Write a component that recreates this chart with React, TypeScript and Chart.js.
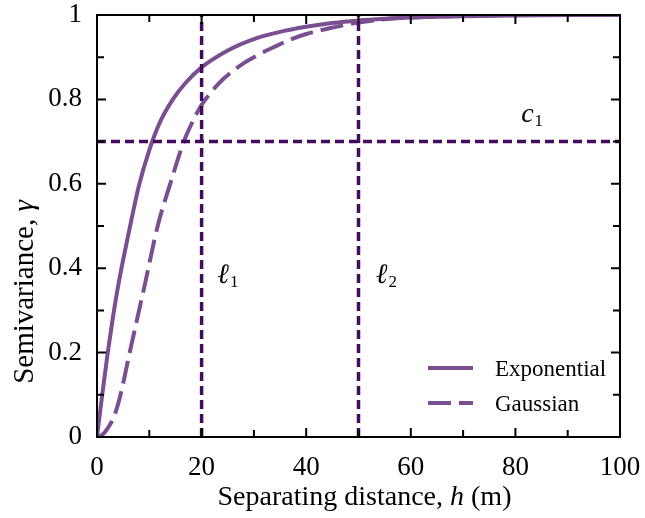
import React, { useEffect, useRef } from "react";
import { Chart, registerables } from "chart.js";

Chart.register(...registerables);

// ---- data ----
const expH = [0, 1, 2, 3, 4, 5, 6, 8, 10, 12, 14.5, 17, 20, 25, 30, 35, 40, 45, 50, 55, 60, 70, 80, 90, 100];
const expG = [0, 0.1, 0.195, 0.28, 0.355, 0.42, 0.48, 0.595, 0.68, 0.745, 0.8, 0.84, 0.876, 0.916, 0.943, 0.96, 0.972, 0.981, 0.987, 0.991, 0.994, 0.997, 0.999, 1, 1];

const gauH = [0, 1, 2, 3.3, 4.5, 5.9, 7.5, 9.3, 11.6, 14, 16.6, 18, 19.8, 22, 24.3, 27.6, 30, 34, 37, 40, 45, 50, 55, 60, 70, 80, 90, 100];
const gauG = [0, 0.005, 0.02, 0.05, 0.1, 0.18, 0.27, 0.37, 0.5, 0.6, 0.7, 0.74, 0.783, 0.82, 0.85, 0.882, 0.9, 0.925, 0.942, 0.955, 0.97, 0.982, 0.99, 0.994, 0.998, 1, 1, 1];

const seriesNames = ["Exponential", "Gaussian"];
const refXs = [20, 50]; // ℓ1, ℓ2
const refY = 0.7; // c1
const xMajor = [0, 20, 40, 60, 80, 100];
const xMinor = [10, 30, 50, 70, 90];
const yMajor = [0, 0.2, 0.4, 0.6, 0.8, 1];
const yMinor = [0.1, 0.3, 0.5, 0.7, 0.9];
const annLabels = [
  { base: "ℓ", sub: "1", x: 23, y: 0.365 },
  { base: "ℓ", sub: "2", x: 53.3, y: 0.365 },
  { base: "c", sub: "1", x: 81.1, y: 0.746 },
];

const CURVE = "#7a4f92";
const REF = "#440c5a";
const FONT = "'Liberation Serif', 'Times New Roman', serif";

const toPts = (xs: number[], ys: number[]) => xs.map((x, i) => ({ x, y: ys[i] }));

const decor = {
  id: "decor",
  afterDraw(chart: any) {
    const { ctx, chartArea: a, scales } = chart;
    const xs = scales.x;
    const ys = scales.y;
    ctx.save();
    // frame
    ctx.strokeStyle = "#000";
    ctx.lineWidth = 2;
    ctx.setLineDash([]);
    ctx.strokeRect(a.left, a.top, a.right - a.left, a.bottom - a.top);
    // ticks (inward, all sides)
    const tick = (vals: number[], len: number) => {
      vals.forEach((v) => {
        const px = xs.getPixelForValue(v);
        ctx.beginPath();
        ctx.moveTo(px, a.bottom);
        ctx.lineTo(px, a.bottom - len);
        ctx.moveTo(px, a.top);
        ctx.lineTo(px, a.top + len);
        ctx.stroke();
      });
    };
    const ytick = (vals: number[], len: number) => {
      vals.forEach((v) => {
        const py = ys.getPixelForValue(v);
        ctx.beginPath();
        ctx.moveTo(a.left, py);
        ctx.lineTo(a.left + len, py);
        ctx.moveTo(a.right, py);
        ctx.lineTo(a.right - len, py);
        ctx.stroke();
      });
    };
    tick(xMajor, 9);
    tick(xMinor, 7);
    ytick(yMajor, 9);
    ytick(yMinor, 7);

    ctx.fillStyle = "#000";
    ctx.textBaseline = "alphabetic";
    ctx.textAlign = "left";
    // x title with italic h
    const segs = [
      { t: "Separating distance, ", f: `28px ${FONT}` },
      { t: "h", f: `italic 28px ${FONT}` },
      { t: " (m)", f: `28px ${FONT}` },
    ];
    let total = 0;
    segs.forEach((s) => {
      ctx.font = s.f;
      total += ctx.measureText(s.t).width;
    });
    let cx = (a.left + a.right) / 2 + 6 - total / 2;
    segs.forEach((s) => {
      ctx.font = s.f;
      ctx.fillText(s.t, cx, 505);
      cx += ctx.measureText(s.t).width;
    });
    // y title rotated with italic gamma
    const ysegs = [
      { t: "Semivariance, ", f: `29px ${FONT}` },
      { t: "γ", f: `italic 29px ${FONT}` },
    ];
    let ytot = 0;
    ysegs.forEach((s) => {
      ctx.font = s.f;
      ytot += ctx.measureText(s.t).width;
    });
    ctx.save();
    ctx.translate(33, (a.top + a.bottom) / 2 + 66);
    ctx.rotate(-Math.PI / 2);
    let ty = -ytot / 2;
    ysegs.forEach((s) => {
      ctx.font = s.f;
      ctx.fillText(s.t, ty, 0);
      ty += ctx.measureText(s.t).width;
    });
    ctx.restore();

    // legend
    const ds = chart.data.datasets.filter((d: any) => seriesNames.includes(d.label));
    ds.forEach((d: any, i: number) => {
      const ly = 368 + i * 35;
      ctx.strokeStyle = d.borderColor;
      ctx.lineWidth = d.borderWidth;
      ctx.setLineDash(d.borderDash || []);
      ctx.beginPath();
      ctx.moveTo(428, ly);
      ctx.lineTo(473, ly);
      ctx.stroke();
      ctx.setLineDash([]);
      ctx.fillStyle = "#000";
      ctx.font = `23px ${FONT}`;
      ctx.fillText(d.label, 495, ly + 8);
    });

    // annotations ℓ1, ℓ2, c1
    annLabels.forEach((l) => {
      const px = xs.getPixelForValue(l.x);
      const py = ys.getPixelForValue(l.y);
      ctx.fillStyle = "#000";
      ctx.font = `italic 28px ${FONT}`;
      ctx.fillText(l.base, px, py);
      const w = ctx.measureText(l.base).width;
      ctx.font = `17px ${FONT}`;
      ctx.fillText(l.sub, px + w + 1, py + 4);
    });
    ctx.restore();
  },
};

const zeroPad = (s: any) => {
  s.paddingTop = 0;
  s.paddingBottom = 0;
  s.paddingLeft = 0;
  s.paddingRight = 0;
};

export default function App() {
  const ref = useRef<HTMLCanvasElement | null>(null);
  useEffect(() => {
    if (!ref.current) return;
    const refStyle = {
      borderColor: REF,
      borderWidth: 3.5,
      borderDash: [9, 5],
      pointRadius: 0,
      fill: false,
    };
    const refDs = [
      ...refXs.map((x) => ({
        label: "ref",
        data: [
          { x, y: 0 },
          { x, y: 1 },
        ],
        ...refStyle,
      })),
      {
        label: "ref",
        data: [
          { x: 0, y: refY },
          { x: 100, y: refY },
        ],
        ...refStyle,
      },
    ];
    const chart = new Chart(ref.current, {
      type: "line",
      data: {
        datasets: [
          ...refDs,
          {
            label: seriesNames[0],
            data: toPts(expH, expG),
            borderColor: CURVE,
            borderWidth: 4,
            pointRadius: 0,
            cubicInterpolationMode: "monotone",
            fill: false,
          },
          {
            label: seriesNames[1],
            data: toPts(gauH, gauG),
            borderColor: CURVE,
            borderWidth: 4,
            borderDash: [23, 8],
            pointRadius: 0,
            cubicInterpolationMode: "monotone",
            fill: false,
          },
        ] as any,
      },
      options: {
        responsive: false,
        animation: false,
        devicePixelRatio: 1,
        layout: { padding: { top: 15, right: 25, left: 0, bottom: 0 } },
        plugins: { legend: { display: false }, tooltip: { enabled: false } },
        scales: {
          x: {
            type: "linear",
            min: 0,
            max: 100,
            grid: { display: false, drawTicks: false },
            border: { display: false },
            ticks: {
              stepSize: 20,
              autoSkip: false,
              maxRotation: 0,
              padding: 15,
              color: "#000",
              font: { family: FONT, size: 27 },
            },
            afterFit: (s: any) => {
              s.height = 81;
              zeroPad(s);
            },
          },
          y: {
            type: "linear",
            min: 0,
            max: 1,
            grid: { display: false, drawTicks: false },
            border: { display: false },
            ticks: {
              stepSize: 0.2,
              padding: 15,
              color: "#000",
              font: { family: FONT, size: 27 },
              callback: (v: any) => String(Math.round(Number(v) * 10) / 10),
            },
            afterFit: (s: any) => {
              s.width = 97;
              zeroPad(s);
            },
          },
        },
      },
      plugins: [decor],
    });
    return () => chart.destroy();
  }, []);
  return (
    <div style={{ position: "fixed", left: 0, top: 0, width: 645, height: 518, background: "#fff" }}>
      <canvas ref={ref} width={645} height={518} style={{ display: "block" }} />
    </div>
  );
}
